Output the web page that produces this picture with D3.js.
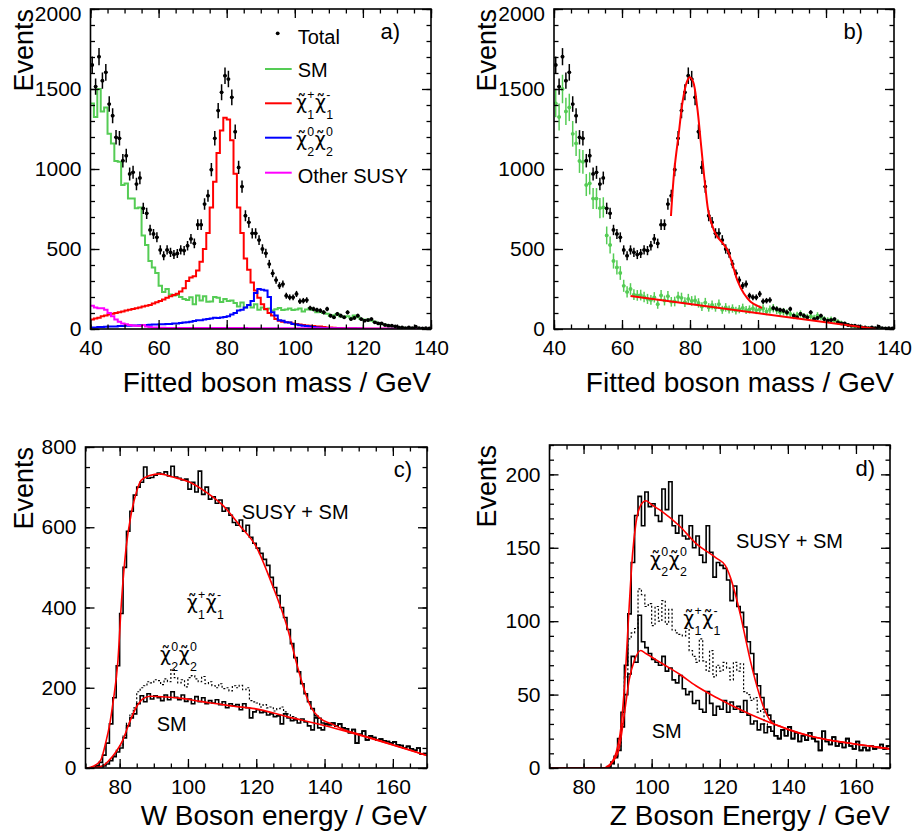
<!DOCTYPE html>
<html><head><meta charset="utf-8">
<script src="https://cdn.jsdelivr.net/npm/d3@7"></script>
<style>
body{margin:0;background:#fff;}
svg text{font-family:"Liberation Sans", Arial, Helvetica, sans-serif;fill:#000;}
</style></head><body>
<svg id="chart" width="914" height="836"></svg>
<script>
// ---------- categories / tick labels ----------
const massBins = d3.range(40, 140);      // 1 GeV bins, lower edges
const energyBins = d3.range(70, 170);    // 1 GeV bins, lower edges
const massTicks = [40, 60, 80, 100, 120, 140];
const energyTicks = [80, 100, 120, 140, 160];
const eventsTicksAB = [0, 500, 1000, 1500, 2000];
const eventsTicksC = [0, 200, 400, 600, 800];
const eventsTicksD = [0, 50, 100, 150, 200];

// ---------- panel a/b : fitted boson mass ----------
const totalMass = [1650,1515,1702,1552,1604,1406,1333,1198,1192,1052,
 1083,969,979,906,944,754,723,619,594,573,
 494,458,494,479,465,472,494,490,521,563,
 535,652,652,781,833,996,1192,1365,1479,1583,
 1562,1448,1233,1010,890,708,667,598,598,556,
 500,473,406,348,306,271,281,208,198,198,
 219,173,177,181,131,125,119,115,104,125,
 83,73,94,83,73,104,62,69,83,62,
 52,56,62,42,35,35,25,21,21,17,
 10,10,6,10,6,15,5,3,5,3];
const smMass = [1410,1325,1500,1360,1385,1220,1160,1050,1045,900,
 910,815,815,755,760,585,525,425,385,350,
 270,232,250,215,210,212,200,188,182,198,
 155,210,178,205,170,172,200,195,168,188,
 175,178,163,140,165,135,150,135,155,120,
 135,122,128,115,124,132,118,122,128,118,
 122,128,110,122,130,118,105,108,100,95,
 82,86,94,80,75,80,70,84,74,62,
 56,60,52,46,38,32,26,21,16,13,
 10,8,6,5,4,3,2,2,1,1];
const charginoMass = [60,65,70,80,85,90,95,100,105,110,
 115,120,125,130,135,140,145,150,160,167,
 175,185,195,205,212,220,235,255,300,322,
 330,365,420,500,600,760,920,1100,1240,1320,
 1310,1180,970,760,600,440,370,290,240,195,
 155,125,100,85,62,52,45,42,40,35,
 32,28,25,22,20,18,16,15,12,10,
 9,8,7,6,5,5,4,4,3,3,
 2,2,2,1,1,1,1,0,0,0,
 0,0,0,0,0,0,0,0,0,0];
const neutralinoMass = [10,10,12,12,14,15,15,16,18,18,
 20,20,22,22,24,25,25,26,28,28,
 30,30,32,32,34,35,38,40,42,45,
 50,55,55,60,62,65,70,68,72,75,
 80,90,100,115,120,135,150,175,225,250,
 245,240,200,105,85,55,52,42,40,32,
 28,24,20,18,15,12,10,8,6,5,
 4,3,3,2,2,1,1,1,1,0,
 0,0,0,0,0,0,0,0,0,0,
 0,0,0,0,0,0,0,0,0,0];
const otherSusyMass = [145,135,130,130,120,100,80,60,45,35,
 30,25,22,20,18,25,15,12,10,10,
 8,8,7,7,6,6,6,6,6,6,
 6,6,6,6,6,6,6,6,6,6,
 6,6,6,6,6,6,5,5,5,5,
 5,5,5,5,5,5,5,5,5,5,
 5,5,5,5,5,5,4,4,4,4,
 4,4,4,4,4,4,4,4,4,4,
 3,3,3,3,3,3,3,3,3,3,
 2,2,2,2,2,2,2,2,2,2];
const fitPeakMass = [74.4,75.4,76.7,77.9,79.1,79.9,80.9,82.1,83.3,84.5,85.5,87,88,89.5,91,92.4,93.9,95.8,97.8,100.3,101.2];
const fitPeakEvents = [706,994,1223,1431,1546,1573,1546,1390,1140,890,723,619,577,540,494,410,306,223,171,140,132];
const fitBkgMass = [62.5, 134.7];
const fitBkgEvents = [206, 0];

// ---------- panel c : W boson energy ----------
const wTotal = [0,0,2,6,14,32,62,110,175,255,
 385,500,590,640,680,700,712,750,722,724,
 730,735,732,738,728,752,725,722,718,720,
 695,712,688,740,682,700,670,676,660,668,
 640,648,630,612,605,618,590,605,575,560,
 548,535,520,505,475,450,430,400,375,345,
 310,275,240,210,185,165,148,130,124,112,
 110,108,112,104,110,100,98,88,96,62,
 84,92,70,80,76,70,72,68,66,62,
 65,58,56,50,54,48,44,50,35,36];
const wSM = [0,0,1,2,3,5,10,18,28,40,
 50,75,105,125,135,160,180,165,185,172,
 180,175,168,182,170,190,176,170,182,166,
 172,160,178,165,175,160,168,162,170,158,
 165,150,160,155,158,145,160,150,125,140,
 145,138,140,132,135,128,130,110,135,125,
 118,120,112,122,115,105,95,125,100,95,
 110,108,112,104,110,100,98,88,96,62,
 84,92,70,80,76,70,72,68,66,62,
 65,58,56,50,54,48,44,50,35,36];
const wSMplusNeutralino = [0,0,1,2,4,7,12,20,30,44,
 55,82,112,135,150,190,200,205,215,212,
 220,218,208,222,215,245,225,212,220,202,
 225,230,222,215,228,210,215,205,200,210,
 198,200,192,205,200,206,195,200,168,165,
 162,152,158,150,152,142,148,152,140,135,
 128,125];
const wFitTopE = [70,71.5,73,74.5,76,77,78,79.5,80.5,81.9,83.4,84.9,86.3,88.8,91.7,95.6,100.6,105.4,110.3,115.2,120.1,124.2,129.1,132.1,134.1,136,138.8,141.8,145,150,155,160,165,170];
const wFitTopN = [0,2,8,20,66,105,160,268,410,550,634,687,717,729,733,725,712,687,654,604,550,467,350,252,194,152,123,111,98,84,71,58,45,31];
const wFitSmE = [70,73,75,76.9,78.9,80.9,82.9,84.9,86.9,88.9,93.8,98.7,103.6,108.5,113.4,119.5,129,139,149,159,170];
const wFitSmN = [0,1,5,19,40,69,114,152,173,179,177,173,166,160,154,148,128,108,85,60,31];

// ---------- panel d : Z boson energy ----------
const zTotal = [0,0,0,0,0,0,0,0,0,0,
 0,0,0,0,0,0,0,1,4,8,
 20,38,70,105,140,172,185,165,188,178,
 180,172,168,190,176,195,165,160,172,158,
 156,165,150,158,145,140,165,147,130,140,
 138,136,128,114,124,110,106,96,86,78,
 64,56,48,40,36,32,22,20,26,22,
 28,20,24,18,22,19,24,20,18,12,
 25,18,16,21,15,17,14,20,15,13,
 18,12,14,12,15,13,14,16,13,15];
const zSM = [0,0,0,0,0,0,0,0,0,0,
 0,0,0,0,0,0,0,0,3,7,
 12,28,50,64,76,72,104,86,82,78,
 74,72,70,76,66,68,60,58,63,54,
 50,52,44,46,40,38,52,44,36,42,
 40,46,38,45,40,42,38,46,36,30,
 32,26,30,24,28,25,22,20,26,22,
 28,20,24,18,22,19,24,20,18,12,
 25,18,16,21,15,17,14,20,15,13,
 18,12,14,12,15,13,14,16,13,15];
const zSMplusChargino = [0,0,0,0,0,0,0,0,0,0,
 0,0,0,0,0,0,0,0,3,8,
 15,30,62,88,92,95,122,118,110,112,
 97,110,100,114,98,108,94,92,91,90,
 95,80,76,72,88,73,66,80,62,70,
 66,72,68,60,72,66,71,52,50,46,
 48,38,40,30,28,25];
const zFitTopE = [70,85.6,87.5,89.5,91,92.4,93.4,94.4,95.4,96.8,98.3,100.2,103.2,108.1,113,119,121.6,123.1,124.5,126,127.5,129,130.4,131.9,133.3,135.3,138.2,143,148,157.8,170];
const zFitTopN = [0,0,2,10,28,69,110,146,167,179,182,179,174.5,165,153,143,138,130,119,105,89,73,60,48,39,31,28,24,21,17,13];
const zFitSmE = [70,86.6,88.5,90.5,92,93.4,94.9,96.8,98.3,103.2,108.1,113,119,128.6,138.2,148,157.8,170];
const zFitSmN = [0,0,4,14,37,60,73,80,78,71,64,56,48,37,28,21,17,13];

// ---------- colours ----------
const colSM = "#55cc55", colChargino = "#ff0000", colNeutralino = "#0000ff", colOther = "#ff00ff", colFit = "#ff0000";

// ---------- drawing ----------
const svg = d3.select("#chart");
svg.append("rect").attr("width", 914).attr("height", 836).attr("fill", "#fff");
const FONT = '"Liberation Sans", Arial, Helvetica, sans-serif';

function makePanel(o) {
  const x = d3.scaleLinear().domain(o.xDomain).range([o.left, o.right]);
  const y = d3.scaleLinear().domain(o.yDomain).range([o.bottom, o.top]);
  const g = svg.append("g");
  const id = "clip-" + o.name;
  svg.append("clipPath").attr("id", id).append("rect")
    .attr("x", o.left).attr("y", o.top - 1).attr("width", o.right - o.left).attr("height", o.bottom - o.top + 1);
  const plot = g.append("g").attr("clip-path", `url(#${id})`);
  return {x, y, g, plot, o};
}

function styleAxis(sel) {
  sel.select(".domain").remove();
  sel.selectAll(".tick line").attr("stroke", "#000").attr("stroke-width", 1.3);
  sel.selectAll(".tick text").attr("font-size", 21).attr("font-family", FONT).attr("fill", "#000");
}

function drawAxes(p) {
  const {x, y, o} = p;
  const ax = p.g.append("g");
  const xMinor = d3.range(o.xDomain[0], o.xDomain[1] + 0.01, 5);
  const yMinor = d3.range(o.yDomain[0], o.yDomain[1] + 0.01, o.yMinorStep);
  ax.append("g").attr("transform", `translate(0,${o.bottom})`)
    .call(d3.axisBottom(x).tickValues(xMinor).tickSize(-4.5).tickFormat("")).call(styleAxis);
  ax.append("g").attr("transform", `translate(0,${o.bottom})`)
    .call(d3.axisBottom(x).tickValues(o.xTicks).tickSize(-9).tickPadding(11).tickFormat(d3.format("d"))).call(styleAxis);
  ax.append("g").attr("transform", `translate(0,${o.top})`)
    .call(d3.axisTop(x).tickValues(xMinor).tickSize(-4.5).tickFormat("")).call(styleAxis);
  ax.append("g").attr("transform", `translate(0,${o.top})`)
    .call(d3.axisTop(x).tickValues(o.xTicks).tickSize(-9).tickFormat("")).call(styleAxis);
  ax.append("g").attr("transform", `translate(${o.left},0)`)
    .call(d3.axisLeft(y).tickValues(yMinor).tickSize(-4.5).tickFormat("")).call(styleAxis);
  const yl = ax.append("g").attr("transform", `translate(${o.left},0)`)
    .call(d3.axisLeft(y).tickValues(o.yTicks).tickSize(-9).tickPadding(9).tickFormat(d3.format("d"))).call(styleAxis);
  if (o.topLabelShift) yl.selectAll(".tick text").filter(d => d === o.yDomain[1]).attr("dy", "0.55em");
  ax.append("g").attr("transform", `translate(${o.right},0)`)
    .call(d3.axisRight(y).tickValues(yMinor).tickSize(-4.5).tickFormat("")).call(styleAxis);
  ax.append("g").attr("transform", `translate(${o.right},0)`)
    .call(d3.axisRight(y).tickValues(o.yTicks).tickSize(-9).tickFormat("")).call(styleAxis);
  ax.append("rect").attr("x", o.left).attr("y", o.top).attr("width", o.right - o.left).attr("height", o.bottom - o.top)
    .attr("fill", "none").attr("stroke", "#000").attr("stroke-width", 1.6);
  // titles
  p.g.append("text").attr("x", o.right).attr("y", o.xTitleY).attr("text-anchor", "end")
    .attr("font-size", 28).text(o.xTitle);
  p.g.append("text").attr("transform", `translate(${o.yTitleX},${o.top}) rotate(-90)`).attr("text-anchor", "end")
    .attr("font-size", 27).text("Events");
  p.g.append("text").attr("x", o.tagX).attr("y", o.tagY).attr("text-anchor", "end").attr("font-size", 22).text(o.tag);
}

function histPath(p, bins, values) {
  const pts = values.map((v, i) => [bins[i], v]);
  pts.push([bins[values.length - 1] + 1, values[values.length - 1]]);
  return d3.line().x(d => p.x(d[0])).y(d => p.y(d[1])).curve(d3.curveStepAfter)(pts);
}
function drawHist(p, bins, values, color, width, dash) {
  const path = p.plot.append("path").attr("d", histPath(p, bins, values))
    .attr("fill", "none").attr("stroke", color).attr("stroke-width", width);
  if (dash) path.attr("stroke-dasharray", dash);
}
// points with statistical error bars (errScale: weighted-MC inflation of sqrt(N))
function drawPoints(p, bins, values, color, errScale) {
  const gg = p.plot.append("g");
  values.forEach((v, i) => {
    const c = bins[i] + 0.5, e = errScale * Math.sqrt(v);
    gg.append("line").attr("x1", p.x(c)).attr("x2", p.x(c)).attr("y1", p.y(v - e)).attr("y2", p.y(v + e))
      .attr("stroke", color).attr("stroke-width", 1.5);
    gg.append("line").attr("x1", p.x(c - 0.5)).attr("x2", p.x(c + 0.5)).attr("y1", p.y(v)).attr("y2", p.y(v))
      .attr("stroke", color).attr("stroke-width", 1.5);
    gg.append("circle").attr("cx", p.x(c)).attr("cy", p.y(v)).attr("r", 1.9).attr("fill", color);
  });
}
function drawCurve(p, xs, ys, color, width, curve) {
  const pts = xs.map((v, i) => [v, ys[i]]);
  p.plot.append("path").attr("d", d3.line().x(d => p.x(d[0])).y(d => p.y(d[1])).curve(curve)(pts))
    .attr("fill", "none").attr("stroke", color).attr("stroke-width", width);
}
// chi-tilde pair label: "χ̃" (combining tilde, DejaVu Sans for mark positioning) with stacked sup/sub
function chiLabel(x, y, size, parts) {
  const meas = (s, fs) => { const t = svg.append("text").attr("font-size", fs).text(s); const w = t.node().getComputedTextLength(); t.remove(); return w; };
  const fsS = 0.62 * size;
  const t = svg.append("text").attr("x", x).attr("y", y).attr("font-size", size);
  let off = 0;
  const add = (s, fs, dx, o, fam) => {
    const ts = t.append("tspan").attr("font-size", fs).attr("dx", dx).attr("dy", o - off).text(s);
    if (fam) ts.attr("font-family", fam);
    off = o;
  };
  let pend = 0;
  parts.forEach(pt => {
    const wSup = meas(pt.sup, fsS), wSub = meas(pt.sub, fsS);
    add("\u03C7\u0303", size * 0.95, pend, 0, '"DejaVu Sans", sans-serif');
    add(pt.sup, fsS, 0.3, -0.52 * size);
    add(pt.sub, fsS, -wSup, 0.5 * size);
    pend = Math.max(wSup, wSub) - wSub + 0.5;
  });
}

// ---------- panel a ----------
const pa = makePanel({name: "a", left: 90.5, right: 431, top: 9, bottom: 329, xDomain: [40, 140], yDomain: [0, 2000],
  xTicks: massTicks, yTicks: eventsTicksAB, yMinorStep: 100, xTitle: "Fitted boson mass / GeV", xTitleY: 392,
  yTitleX: 33, tag: "a)", tagX: 400, tagY: 39, topLabelShift: true});
drawHist(pa, massBins, smMass, colSM, 2);
drawHist(pa, massBins, charginoMass, colChargino, 2);
drawHist(pa, massBins, neutralinoMass, colNeutralino, 2);
drawHist(pa, massBins, otherSusyMass, colOther, 2);
drawPoints(pa, massBins, totalMass, "#000", 1.3);
drawAxes(pa);
// legend
svg.append("circle").attr("cx", 277.7).attr("cy", 33.3).attr("r", 1.9).attr("fill", "#000");
svg.append("text").attr("x", 297.7).attr("y", 44).attr("font-size", 20).text("Total");
[[69, colSM], [103.3, colChargino], [137.7, colNeutralino], [172.7, colOther]].forEach(([yy, c]) => {
  svg.append("line").attr("x1", 265).attr("x2", 291.7).attr("y1", yy).attr("y2", yy).attr("stroke", c).attr("stroke-width", 2);
});
svg.append("text").attr("x", 297.7).attr("y", 77.3).attr("font-size", 20).text("SM");
chiLabel(296, 109, 20, [{sub: "1", sup: "+"}, {sub: "1", sup: "-"}]);
chiLabel(296, 146, 20, [{sub: "2", sup: "0"}, {sub: "2", sup: "0"}]);
svg.append("text").attr("x", 297.7).attr("y", 182.7).attr("font-size", 20).text("Other SUSY");

// ---------- panel b ----------
const pb = makePanel({name: "b", left: 554, right: 894, top: 9, bottom: 329, xDomain: [40, 140], yDomain: [0, 2000],
  xTicks: massTicks, yTicks: eventsTicksAB, yMinorStep: 100, xTitle: "Fitted boson mass / GeV", xTitleY: 392,
  yTitleX: 496, tag: "b)", tagX: 863, tagY: 39, topLabelShift: true});
drawPoints(pb, massBins, smMass, colSM, 2.3);
drawPoints(pb, massBins, totalMass, "#000", 1.3);
drawCurve(pb, fitPeakMass, fitPeakEvents, colFit, 2, d3.curveCatmullRom.alpha(0.5));
drawCurve(pb, fitBkgMass, fitBkgEvents, colFit, 2, d3.curveLinear);
drawAxes(pb);

// ---------- panel c ----------
const pc = makePanel({name: "c", left: 85.5, right: 427, top: 447, bottom: 768, xDomain: [70, 170], yDomain: [0, 800],
  xTicks: energyTicks, yTicks: eventsTicksC, yMinorStep: 50, xTitle: "W Boson energy / GeV", xTitleY: 825,
  yTitleX: 33, tag: "c)", tagX: 412, tagY: 477});
drawHist(pc, energyBins, wSMplusNeutralino, "#000", 1.2, "2,2");
drawHist(pc, energyBins, wSM, "#000", 1.6);
drawHist(pc, energyBins, wTotal, "#000", 1.6);
drawCurve(pc, wFitSmE, wFitSmN, colFit, 1.6, d3.curveMonotoneX);
drawCurve(pc, wFitTopE, wFitTopN, colFit, 1.6, d3.curveMonotoneX);
drawAxes(pc);
svg.append("text").attr("x", 241.7).attr("y", 519).attr("font-size", 20).text("SUSY + SM");
chiLabel(186.7, 609, 20, [{sub: "1", sup: "+"}, {sub: "1", sup: "-"}]);
chiLabel(160, 661, 20, [{sub: "2", sup: "0"}, {sub: "2", sup: "0"}]);
svg.append("text").attr("x", 156.7).attr("y", 730.5).attr("font-size", 20).text("SM");

// ---------- panel d ----------
const pd = makePanel({name: "d", left: 549.5, right: 890, top: 445, bottom: 768, xDomain: [70, 170], yDomain: [0, 220],
  xTicks: energyTicks, yTicks: eventsTicksD, yMinorStep: 10, xTitle: "Z Boson Energy / GeV", xTitleY: 825,
  yTitleX: 496, tag: "d)", tagX: 875, tagY: 476});
drawHist(pd, energyBins, zSMplusChargino, "#000", 1.2, "2,2");
drawHist(pd, energyBins, zSM, "#000", 1.6);
drawHist(pd, energyBins, zTotal, "#000", 1.6);
drawCurve(pd, zFitSmE, zFitSmN, colFit, 1.6, d3.curveMonotoneX);
drawCurve(pd, zFitTopE, zFitTopN, colFit, 1.6, d3.curveMonotoneX);
drawAxes(pd);
svg.append("text").attr("x", 736).attr("y", 548).attr("font-size", 20).text("SUSY + SM");
chiLabel(650, 566, 20, [{sub: "2", sup: "0"}, {sub: "2", sup: "0"}]);
chiLabel(683.3, 625, 20, [{sub: "1", sup: "+"}, {sub: "1", sup: "-"}]);
svg.append("text").attr("x", 651.7).attr("y", 738).attr("font-size", 20).text("SM");
</script></body></html>
